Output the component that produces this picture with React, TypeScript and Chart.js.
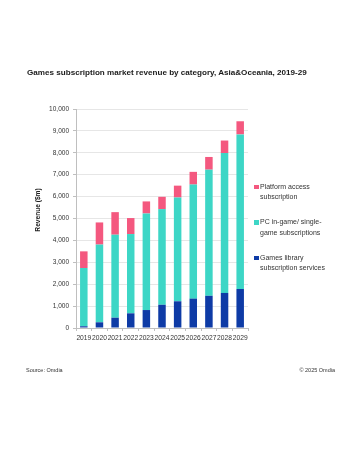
import React, { useEffect, useRef } from "react";
import { Chart, registerables } from "chart.js";

Chart.register(...registerables);

const years = ["2019", "2020", "2021", "2022", "2023", "2024", "2025", "2026", "2027", "2028", "2029"];
const gamesLibrary = [80, 260, 470, 670, 820, 1060, 1220, 1340, 1470, 1600, 1780];
const pcInGame = [2660, 3550, 3790, 3620, 4410, 4370, 4740, 5210, 5760, 6390, 7060];
const platformAccess = [760, 1010, 1030, 730, 550, 560, 540, 580, 580, 570, 600];

const seriesLabels = ["Games library subscription services", "PC in-game/ single-game subscriptions", "Platform access subscription"];
const legendLines = [["Platform access", "subscription"], ["PC in-game/ single-", "game subscriptions"], ["Games library", "subscription services"]];
const colors = { blue: "#0E3BA6", teal: "#3DD6C6", pink: "#F4587F" };
const legendColors = [colors.pink, colors.teal, colors.blue];

const FONT = "'Liberation Sans', Arial, sans-serif";

export default function App() {
  const ref = useRef<HTMLCanvasElement>(null);
  useEffect(() => {
    if (!ref.current) return;
    const chart = new Chart(ref.current, {
      type: "bar",
      data: {
        labels: years,
        datasets: [
          { label: seriesLabels[0], data: gamesLibrary, backgroundColor: colors.blue },
          { label: seriesLabels[1], data: pcInGame, backgroundColor: colors.teal },
          { label: seriesLabels[2], data: platformAccess, backgroundColor: colors.pink },
        ],
      },
      options: {
        animation: false,
        responsive: false,
        maintainAspectRatio: false,
        layout: { padding: { left: 30, top: 109, right: 111, bottom: 106 } },
        datasets: { bar: { categoryPercentage: 1, barPercentage: 0.48 } },
        plugins: { legend: { display: false }, tooltip: { enabled: false }, title: { display: false } },
        scales: {
          x: {
            stacked: true,
            grid: { display: true, drawOnChartArea: false, tickLength: 3, color: "#bfbfbf", offset: true },
            border: { color: "#bfbfbf" },
            ticks: { autoSkip: false, maxRotation: 0, minRotation: 0, padding: 3, color: "#333", font: { family: FONT, size: 6.7 } },
            afterFit: (s: any) => { s.height = 20; },
          },
          y: {
            stacked: true,
            min: 0,
            max: 10000,
            ticks: {
              stepSize: 1000,
              padding: 4,
              color: "#333",
              font: { family: FONT, size: 6.5 },
              callback: (v: any) => Number(v).toLocaleString("en-US"),
            },
            grid: { color: "#e6e6e6", tickLength: 3, tickColor: "#bfbfbf" },
            border: { color: "#bfbfbf" },
            title: { display: false },
            afterFit: (s: any) => { s.width = 46; },
          },
        },
      },
    });
    return () => chart.destroy();
  }, []);

  return (
    <div style={{ position: "fixed", left: 0, top: 0, width: 359, height: 454, background: "#fff", fontFamily: FONT }}>
      <canvas ref={ref} width={359} height={454} style={{ position: "absolute", left: 0, top: 0, width: 359, height: 454 }} />
      <div style={{ position: "absolute", left: 27, top: 67, fontSize: 8.1, fontWeight: "bold", color: "#1a1a1a", whiteSpace: "nowrap", lineHeight: "11px" }}>
        Games subscription market revenue by category, Asia&amp;Oceania, 2019-29
      </div>
      <div style={{ position: "absolute", left: 38, top: 210, width: 0, height: 0 }}>
        <div style={{ position: "absolute", left: 0, top: 0, transform: "translate(-50%, -50%) rotate(-90deg)", fontSize: 6.6, fontWeight: "bold", color: "#222", whiteSpace: "nowrap", lineHeight: "8px" }}>
          Revenue ($m)
        </div>
      </div>
      {legendLines.map((lines, i) => (
        <div key={i} style={{ position: "absolute", left: 254, top: [181.6, 217.3, 252.6][i], fontSize: 7, lineHeight: "10.7px", color: "#333", whiteSpace: "nowrap" }}>
          <span style={{ position: "absolute", left: 0, top: 3, width: 4.5, height: 4.5, background: legendColors[i] }} />
          <div style={{ marginLeft: 6 }}>{lines[0]}</div>
          <div style={{ marginLeft: 6 }}>{lines[1]}</div>
        </div>
      ))}
      <div style={{ position: "absolute", left: 26, top: 366, fontSize: 5.5, lineHeight: "8px", color: "#333", whiteSpace: "nowrap" }}>Source: Omdia</div>
      <div style={{ position: "absolute", right: 24, top: 366, fontSize: 5.5, lineHeight: "8px", color: "#333", whiteSpace: "nowrap" }}>© 2025 Omdia</div>
    </div>
  );
}
